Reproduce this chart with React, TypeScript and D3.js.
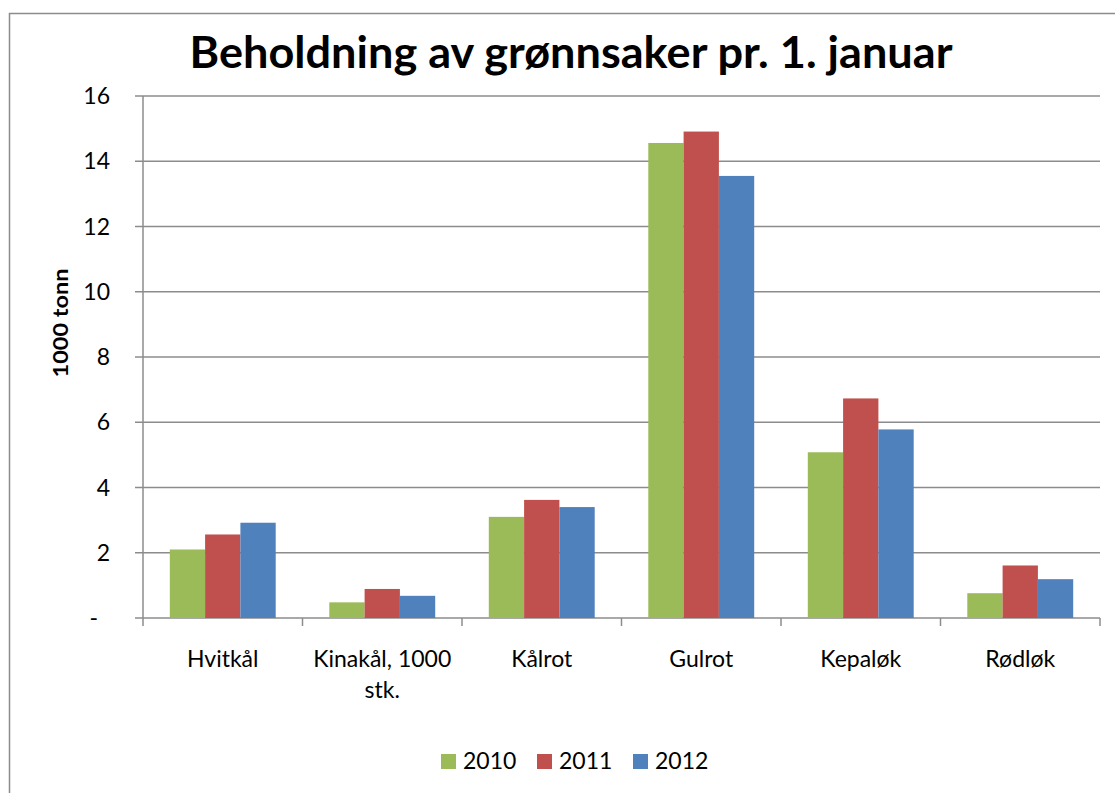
import * as d3 from 'd3';
import React, { useRef, useEffect } from 'react';

const categories = ["Hvitkål", "Kinakål, 1000 stk.", "Kålrot", "Gulrot", "Kepaløk", "Rødløk"]
const series = ["2010", "2011", "2012"]
const v2010 = [2.1, 0.48, 3.1, 14.56, 5.08, 0.76]
const v2011 = [2.56, 0.89, 3.62, 14.91, 6.73, 1.61]
const v2012 = [2.92, 0.68, 3.4, 13.55, 5.78, 1.19]
const yTicks = [0, 2, 4, 6, 8, 10, 12, 14, 16]
const colors = ["#9BBB59", "#C0504D", "#4F81BD"]

const font = "Lato, 'Open Sans', sans-serif"
const margin = { top: 96, right: 15, bottom: 175, left: 143 }
const W = 1115, H = 793

function App() {
  const ref = useRef(null);

  useEffect(() => {
    const svg = d3.select(ref.current)
    svg.selectAll('*').remove()

    const w = W - margin.left - margin.right
    const h = H - margin.top - margin.bottom

    // frame
    svg.append("rect")
      .attr("x", 9.5).attr("y", 13.5)
      .attr("width", W).attr("height", H)
      .attr("fill", "white").attr("stroke", "#8c8c8c").attr("stroke-width", 1.5)

    svg.append("text")
      .attr("x", 571).attr("y", 68)
      .attr("text-anchor", "middle")
      .attr("font-family", font).attr("font-weight", "bold")
      .attr("font-size", 44)
      .attr("textLength", 763).attr("lengthAdjust", "spacingAndGlyphs")
      .text("Beholdning av grønnsaker pr. 1. januar")

    const g = svg.append("g").attr("transform", `translate(${margin.left},${margin.top})`)

    const x = d3.scaleBand().domain(categories).range([0, w]).padding(0)
    const gap = x.bandwidth() * 0.168
    const xs = d3.scaleBand().domain(series).range([gap, x.bandwidth() - gap]).padding(0)
    const y = d3.scaleLinear().domain([0, 16]).range([h, 0])

    // gridlines + y ticks
    g.selectAll(".grid").data(yTicks).enter().append("line")
      .attr("x1", -8).attr("x2", w)
      .attr("y1", d => y(d)).attr("y2", d => y(d))
      .attr("stroke", "#8c8c8c").attr("stroke-width", 1.5)

    g.selectAll(".ylab").data(yTicks).enter().append("text")
      .attr("x", d => d === 0 ? -45 : -33)
      .attr("y", d => y(d) + 8)
      .attr("text-anchor", "end")
      .attr("font-family", font).attr("font-size", 23)
      .text(d => d === 0 ? "-" : String(d))

    // y axis line
    g.append("line").attr("x1", 0).attr("x2", 0).attr("y1", 0).attr("y2", h + 8)
      .attr("stroke", "#8c8c8c").attr("stroke-width", 1.5)

    // x ticks
    const xt = categories.map((c, i) => i + 1)
    g.selectAll(".xt").data(xt).enter().append("line")
      .attr("x1", d => d * x.bandwidth()).attr("x2", d => d * x.bandwidth())
      .attr("y1", h).attr("y2", h + 8)
      .attr("stroke", "#8c8c8c").attr("stroke-width", 1.5)

    const vals = [v2010, v2011, v2012]
    const groups = g.append("g").selectAll("g").data(categories).enter().append("g")
      .attr("transform", d => `translate(${x(d)},0)`)
    groups.selectAll("rect")
      .data((d, i) => series.map((s, k) => ({ s, k, v: vals[k][i] })))
      .enter().append("rect")
      .attr("x", d => xs(d.s))
      .attr("y", d => y(d.v))
      .attr("width", xs.bandwidth())
      .attr("height", d => h - y(d.v))
      .attr("fill", d => colors[d.k])

    // category labels
    const lab = g.selectAll(".xl").data(categories).enter().append("text")
      .attr("text-anchor", "middle")
      .attr("font-family", font).attr("font-size", 23)
      .attr("transform", d => `translate(${x(d) + x.bandwidth() / 2},${h + 49})`)
    lab.each(function (d) {
      const t = d3.select(this)
      const parts = d === "Kinakål, 1000 stk." ? ["Kinakål, 1000", "stk."] : [d]
      parts.forEach((p, i) => t.append("tspan").attr("x", 0).attr("dy", i === 0 ? 0 : 31).text(p))
    })

    // y title
    svg.append("text")
      .attr("transform", "translate(68,323) rotate(-90)")
      .attr("text-anchor", "middle")
      .attr("font-family", font).attr("font-weight", "bold").attr("font-size", 21)
      .attr("textLength", 109).attr("lengthAdjust", "spacingAndGlyphs")
      .text("1000 tonn")

    // legend
    const lx = [441, 537, 633]
    const leg = svg.append("g").selectAll("g").data(series).enter().append("g")
      .attr("transform", (d, i) => `translate(${lx[i]},754)`)
    leg.append("rect").attr("width", 15).attr("height", 15).attr("fill", (d, i) => colors[i])
    leg.append("text").attr("x", 22).attr("y", 15)
      .attr("font-family", font).attr("font-size", 23)
      .text(d => d)
  }, []);

  return (
    <svg ref={ref} width={W} height={H} style={{ position: "absolute", left: 0, top: 0 }}></svg>
  )
}

export default App;
